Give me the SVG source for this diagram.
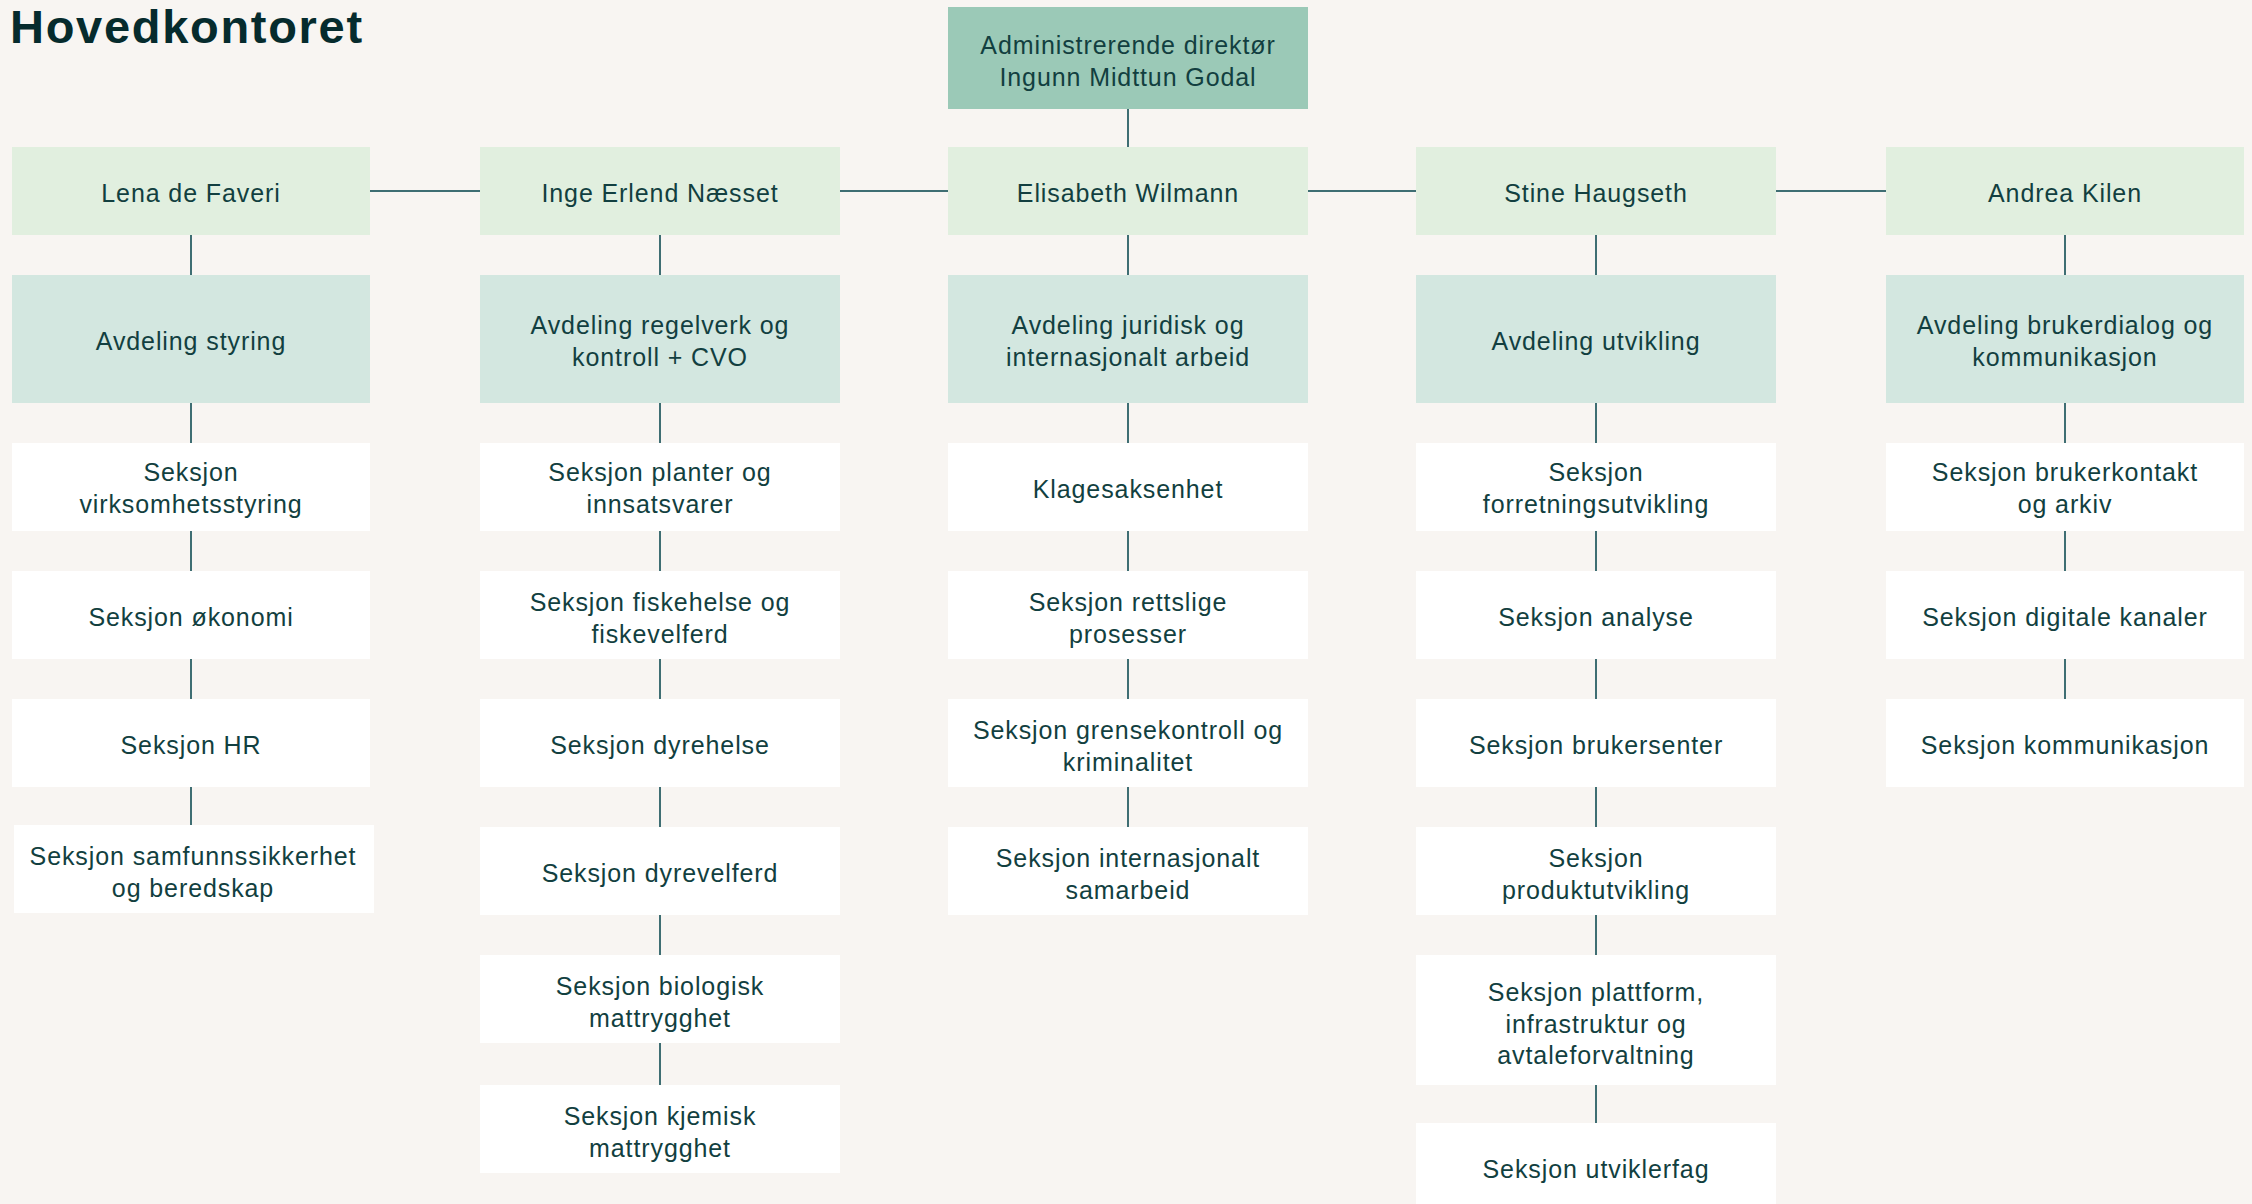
<svg xmlns="http://www.w3.org/2000/svg" width="2252" height="1204" viewBox="0 0 2252 1204">
<style>
.bg{fill:#f8f5f2}
.dir{fill:#9bc9b7}
.per{fill:#e1efdf}
.avd{fill:#d3e7e0}
.sek{fill:#ffffff}
text{font-family:"Liberation Sans",Arial,sans-serif;font-size:25px;fill:#123f40;text-anchor:middle;letter-spacing:0.9px}
.title{font-size:47px;font-weight:bold;fill:#062b2d;text-anchor:start;letter-spacing:1.7px}
.con line{stroke:#3f6e73;stroke-width:2}
</style>
<rect class="bg" x="0" y="0" width="2252" height="1204"/>
<text class="title" x="10" y="43">Hovedkontoret</text>
<g class="con" id="connectors">
<line x1="1128" y1="109" x2="1128" y2="147"/>
<line x1="370" y1="191" x2="480" y2="191"/>
<line x1="840" y1="191" x2="948" y2="191"/>
<line x1="1308" y1="191" x2="1416" y2="191"/>
<line x1="1776" y1="191" x2="1886" y2="191"/>
<line x1="191" y1="235" x2="191" y2="275"/>
<line x1="191" y1="403" x2="191" y2="443"/>
<line x1="191" y1="531" x2="191" y2="571"/>
<line x1="191" y1="659" x2="191" y2="699"/>
<line x1="191" y1="787" x2="191" y2="825"/>
<line x1="660" y1="235" x2="660" y2="275"/>
<line x1="660" y1="403" x2="660" y2="443"/>
<line x1="660" y1="531" x2="660" y2="571"/>
<line x1="660" y1="659" x2="660" y2="699"/>
<line x1="660" y1="787" x2="660" y2="827"/>
<line x1="660" y1="915" x2="660" y2="955"/>
<line x1="660" y1="1043" x2="660" y2="1085"/>
<line x1="1128" y1="235" x2="1128" y2="275"/>
<line x1="1128" y1="403" x2="1128" y2="443"/>
<line x1="1128" y1="531" x2="1128" y2="571"/>
<line x1="1128" y1="659" x2="1128" y2="699"/>
<line x1="1128" y1="787" x2="1128" y2="827"/>
<line x1="1596" y1="235" x2="1596" y2="275"/>
<line x1="1596" y1="403" x2="1596" y2="443"/>
<line x1="1596" y1="531" x2="1596" y2="571"/>
<line x1="1596" y1="659" x2="1596" y2="699"/>
<line x1="1596" y1="787" x2="1596" y2="827"/>
<line x1="1596" y1="915" x2="1596" y2="955"/>
<line x1="1596" y1="1085" x2="1596" y2="1123"/>
<line x1="2065" y1="235" x2="2065" y2="275"/>
<line x1="2065" y1="403" x2="2065" y2="443"/>
<line x1="2065" y1="531" x2="2065" y2="571"/>
<line x1="2065" y1="659" x2="2065" y2="699"/>
</g>
<g id="director"><rect class="dir" x="948" y="7" width="360" height="102"/><text x="1128" y="54">Administrerende direktør</text><text x="1128" y="86">Ingunn Midttun Godal</text></g>
<g id="p1"><rect class="per" x="12" y="147" width="358" height="88"/><text x="191" y="202">Lena de Faveri</text></g>
<g id="p2"><rect class="per" x="480" y="147" width="360" height="88"/><text x="660" y="202">Inge Erlend Næsset</text></g>
<g id="p3"><rect class="per" x="948" y="147" width="360" height="88"/><text x="1128" y="202">Elisabeth Wilmann</text></g>
<g id="p4"><rect class="per" x="1416" y="147" width="360" height="88"/><text x="1596" y="202">Stine Haugseth</text></g>
<g id="p5"><rect class="per" x="1886" y="147" width="358" height="88"/><text x="2065" y="202">Andrea Kilen</text></g>
<g id="d1"><rect class="avd" x="12" y="275" width="358" height="128"/><text x="191" y="350">Avdeling styring</text></g>
<g id="d2"><rect class="avd" x="480" y="275" width="360" height="128"/><text x="660" y="334">Avdeling regelverk og</text><text x="660" y="366">kontroll + CVO</text></g>
<g id="d3"><rect class="avd" x="948" y="275" width="360" height="128"/><text x="1128" y="334">Avdeling juridisk og</text><text x="1128" y="366">internasjonalt arbeid</text></g>
<g id="d4"><rect class="avd" x="1416" y="275" width="360" height="128"/><text x="1596" y="350">Avdeling utvikling</text></g>
<g id="d5"><rect class="avd" x="1886" y="275" width="358" height="128"/><text x="2065" y="334">Avdeling brukerdialog og</text><text x="2065" y="366">kommunikasjon</text></g>
<g id="s1a"><rect class="sek" x="12" y="443" width="358" height="88"/><text x="191" y="481">Seksjon</text><text x="191" y="513">virksomhetsstyring</text></g>
<g id="s1b"><rect class="sek" x="12" y="571" width="358" height="88"/><text x="191" y="626">Seksjon økonomi</text></g>
<g id="s1c"><rect class="sek" x="12" y="699" width="358" height="88"/><text x="191" y="754">Seksjon HR</text></g>
<g id="s1d"><rect class="sek" x="14" y="825" width="360" height="88"/><text x="193" y="865">Seksjon samfunnssikkerhet</text><text x="193" y="897">og beredskap</text></g>
<g id="s2a"><rect class="sek" x="480" y="443" width="360" height="88"/><text x="660" y="481">Seksjon planter og</text><text x="660" y="513">innsatsvarer</text></g>
<g id="s2b"><rect class="sek" x="480" y="571" width="360" height="88"/><text x="660" y="611">Seksjon fiskehelse og</text><text x="660" y="643">fiskevelferd</text></g>
<g id="s2c"><rect class="sek" x="480" y="699" width="360" height="88"/><text x="660" y="754">Seksjon dyrehelse</text></g>
<g id="s2d"><rect class="sek" x="480" y="827" width="360" height="88"/><text x="660" y="882">Seksjon dyrevelferd</text></g>
<g id="s2e"><rect class="sek" x="480" y="955" width="360" height="88"/><text x="660" y="995">Seksjon biologisk</text><text x="660" y="1027">mattrygghet</text></g>
<g id="s2f"><rect class="sek" x="480" y="1085" width="360" height="88"/><text x="660" y="1125">Seksjon kjemisk</text><text x="660" y="1157">mattrygghet</text></g>
<g id="s3a"><rect class="sek" x="948" y="443" width="360" height="88"/><text x="1128" y="498">Klagesaksenhet</text></g>
<g id="s3b"><rect class="sek" x="948" y="571" width="360" height="88"/><text x="1128" y="611">Seksjon rettslige</text><text x="1128" y="643">prosesser</text></g>
<g id="s3c"><rect class="sek" x="948" y="699" width="360" height="88"/><text x="1128" y="739">Seksjon grensekontroll og</text><text x="1128" y="771">kriminalitet</text></g>
<g id="s3d"><rect class="sek" x="948" y="827" width="360" height="88"/><text x="1128" y="867">Seksjon internasjonalt</text><text x="1128" y="899">samarbeid</text></g>
<g id="s4a"><rect class="sek" x="1416" y="443" width="360" height="88"/><text x="1596" y="481">Seksjon</text><text x="1596" y="513">forretningsutvikling</text></g>
<g id="s4b"><rect class="sek" x="1416" y="571" width="360" height="88"/><text x="1596" y="626">Seksjon analyse</text></g>
<g id="s4c"><rect class="sek" x="1416" y="699" width="360" height="88"/><text x="1596" y="754">Seksjon brukersenter</text></g>
<g id="s4d"><rect class="sek" x="1416" y="827" width="360" height="88"/><text x="1596" y="867">Seksjon</text><text x="1596" y="899">produktutvikling</text></g>
<g id="s4e"><rect class="sek" x="1416" y="955" width="360" height="130"/><text x="1596" y="1001">Seksjon plattform,</text><text x="1596" y="1033">infrastruktur og</text><text x="1596" y="1064">avtaleforvaltning</text></g>
<g id="s4f"><rect class="sek" x="1416" y="1123" width="360" height="88"/><text x="1596" y="1178">Seksjon utviklerfag</text></g>
<g id="s5a"><rect class="sek" x="1886" y="443" width="358" height="88"/><text x="2065" y="481">Seksjon brukerkontakt</text><text x="2065" y="513">og arkiv</text></g>
<g id="s5b"><rect class="sek" x="1886" y="571" width="358" height="88"/><text x="2065" y="626">Seksjon digitale kanaler</text></g>
<g id="s5c"><rect class="sek" x="1886" y="699" width="358" height="88"/><text x="2065" y="754">Seksjon kommunikasjon</text></g>
</svg>
